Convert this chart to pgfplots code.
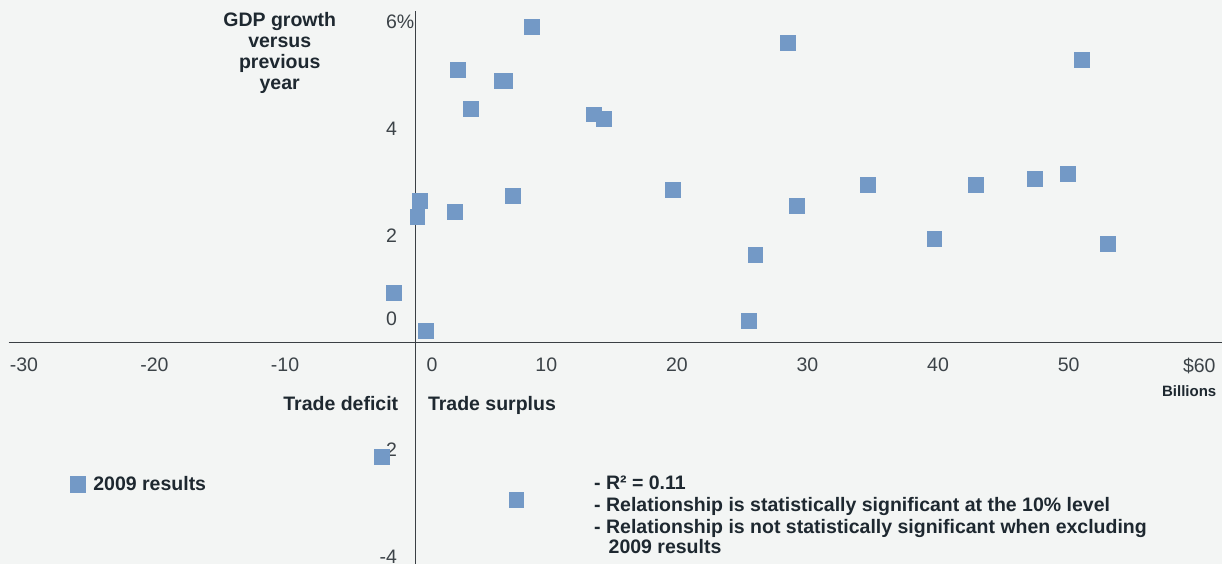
\documentclass[border=0pt]{standalone}
\usepackage{pgfplots}
\pgfplotsset{compat=1.18}
\usepackage{fontspec}
\setmainfont{Liberation Sans}
\definecolor{bgcol}{HTML}{F3F5F4}
\definecolor{markcol}{HTML}{7399C6}
\definecolor{txtcol}{HTML}{1E2830}
\definecolor{tickcol}{HTML}{3C4348}
\definecolor{axiscol}{HTML}{3A3F44}
\begin{document}
\begin{tikzpicture}[x=1pt,y=1pt]
\useasboundingbox (0,0) rectangle (1222,564);
\fill[bgcol] (0,0) rectangle (1222,564);
\clip (0,0) rectangle (1222,564);
\begin{axis}[
  at={(8.7pt,0pt)}, anchor=south west,
  scale only axis, width=1213.3pt, height=553.2pt,
  xmin=-31.16, xmax=61.74, ymin=-4.14, ymax=6.2,
  axis x line=middle, axis y line=middle,
  axis line style={-, draw=axiscol, line width=1.1pt},
  major tick length=0pt,
  xtick={-30,-20,-10,10,20,30,40,50,60},
  xticklabels={-30,-20,-10,10,20,30,40,50,\$60},
  ytick={-4,2,4,6},
  yticklabels={-4,2,4,6\rlap{\%}},
  xticklabel style={anchor=north, inner sep=0pt, yshift=-15.6pt, font=\fontsize{19.5}{22}\selectfont, text=tickcol},
  yticklabel style={anchor=east, inner sep=0pt, xshift=-18.6pt, font=\fontsize{19.5}{22}\selectfont, text=tickcol},
  legend style={at={(axis description cs:0.0505,0.1446)}, anchor=west, draw=none, fill=none,
     inner sep=0pt, outer sep=0pt, font=\fontsize{19.5}{22}\selectfont\bfseries, text=txtcol,
     nodes={inner sep=0pt}, column sep=8pt},
  legend image code/.code={\fill[markcol] (0pt,-8pt) rectangle (15pt,8pt);},
]
\addplot[only marks, mark=square*, mark size=7.4pt, mark options={draw=markcol, fill=markcol, line width=0.3pt}] coordinates {
(8.9,5.90) (28.5,5.60) (51.0,5.28) (3.2,5.10) (6.57,4.89) (6.85,4.89)
(4.2,4.37) (13.6,4.27) (14.4,4.18) (19.7,2.85) (34.6,2.95) (42.9,2.95)
(47.4,3.06) (49.9,3.15) (0.3,2.65) (7.4,2.74) (0.12,2.35) (3.0,2.44)
(29.2,2.56) (39.7,1.94) (53.0,1.85) (26.0,1.64) (-1.7,0.93) (0.74,0.22)
(25.5,0.41) (-2.6,-2.13) (7.7,-2.94)
};
\addlegendentry{2009 results}
\node[anchor=north, inner sep=0pt, font=\fontsize{19.5}{22}\selectfont, text=tickcol, xshift=16.3pt, yshift=-15.6pt] at (axis cs:0,0) {0};
\node[anchor=east, inner sep=0pt, font=\fontsize{19.5}{22}\selectfont, text=tickcol, xshift=-18.6pt, yshift=23.4pt] at (axis cs:0,0) {0};
\node[anchor=east, inner sep=0pt, font=\fontsize{19.5}{22}\selectfont, text=tickcol, xshift=-18.6pt] at (axis cs:0,-2) {-2};
\end{axis}
\begin{scope}[every node/.style={inner sep=0pt, text=txtcol, font=\fontsize{19.5}{21}\selectfont\bfseries}]
\node[anchor=north, align=center] at (279.7,551.7) {GDP growth\\versus\\previous\\year};
\node[anchor=base east] at (398.4,153) {Trade deficit};
\node[anchor=base west] at (427.8,153) {Trade surplus};
\node[anchor=base east, font=\fontsize{15}{17}\selectfont\bfseries] at (1216.5,167.3) {Billions};
\node[anchor=base west] at (594,74) {- R² = 0.11};
\node[anchor=base west] at (594,52.3) {- Relationship is statistically significant at the 10\% level};
\node[anchor=base west] at (594,30.7) {- Relationship is not statistically significant when excluding};
\node[anchor=base west] at (608.5,10) {2009 results};
\end{scope}
\end{tikzpicture}
\end{document}
